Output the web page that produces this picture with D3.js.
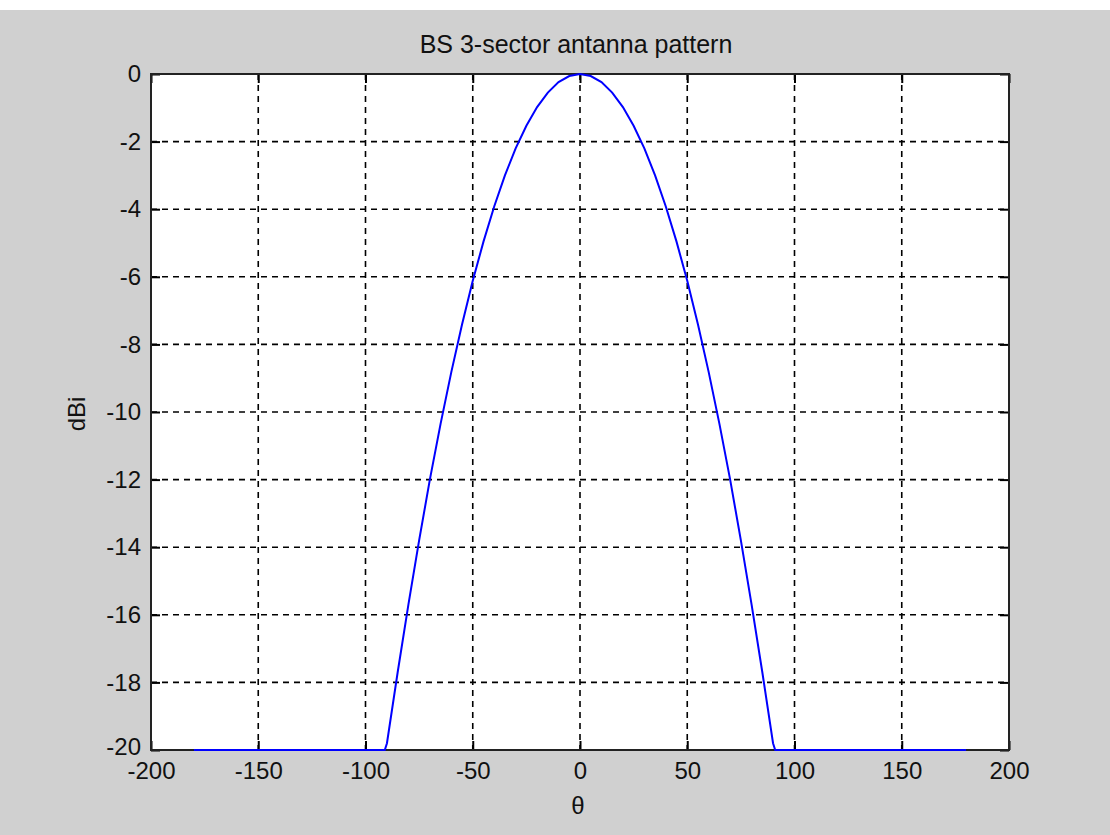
<!DOCTYPE html>
<html>
<head>
<meta charset="utf-8">
<script src="https://cdn.jsdelivr.net/npm/d3@7"></script>
<style>
  body { margin: 0; background: #d0d0d0; }
  svg text { font-family: "Liberation Sans", Arial, sans-serif; fill: #111; }
</style>
</head>
<body>
<div id="chart"></div>
<script>
// angle (degrees) and gain (dBi)
const thetaValues = [-180, -91, -90, -85, -80, -75, -70, -65, -60, -55, -50, -45, -40, -35, -30, -25, -20, -15, -10, -5,
                     0, 5, 10, 15, 20, 25, 30, 35, 40, 45, 50, 55, 60, 65, 70, 75, 80, 85, 90, 91, 180];
const gainValues = [-20, -20, -19.8, -17.7, -15.7, -13.8, -12.0, -10.35, -8.82, -7.41, -6.12, -4.96, -3.92, -3.0, -2.2, -1.53, -0.98, -0.55, -0.24, -0.06,
                    0, -0.06, -0.24, -0.55, -0.98, -1.53, -2.2, -3.0, -3.92, -4.96, -6.12, -7.41, -8.82, -10.35, -12.0, -13.8, -15.7, -17.7, -19.8, -20, -20];
const xTicks = [-200, -150, -100, -50, 0, 50, 100, 150, 200];
const yTicks = [0, -2, -4, -6, -8, -10, -12, -14, -16, -18, -20];

const width = 1110;
const height = 835;
const plot = { left: 151, right: 1009, top: 74, bottom: 750 };

const svg = d3.select('#chart')
  .append('svg')
    .attr('width', width)
    .attr('height', height);

svg.append('rect')
  .attr('width', width).attr('height', height)
  .attr('fill', '#d0d0d0');
svg.append('rect')
  .attr('width', width).attr('height', 10)
  .attr('fill', '#fff');

svg.append('rect')
  .attr('x', plot.left).attr('y', plot.top)
  .attr('width', plot.right - plot.left).attr('height', plot.bottom - plot.top)
  .attr('fill', '#fff');

const x = d3.scaleLinear().domain([-200, 200]).range([plot.left, plot.right]);
const y = d3.scaleLinear().domain([-20, 0]).range([plot.bottom, plot.top]);

// dashed grid
svg.append('g')
  .selectAll('line')
  .data(xTicks.slice(1, -1))
  .join('line')
    .attr('x1', d => x(d)).attr('x2', d => x(d))
    .attr('y1', plot.top).attr('y2', plot.bottom)
    .attr('stroke', '#000').attr('stroke-width', 1.6)
    .attr('stroke-dasharray', '6,5');

svg.append('g')
  .selectAll('line')
  .data(yTicks.slice(1, -1))
  .join('line')
    .attr('x1', plot.left).attr('x2', plot.right)
    .attr('y1', d => y(d)).attr('y2', d => y(d))
    .attr('stroke', '#000').attr('stroke-width', 1.6)
    .attr('stroke-dasharray', '6,5');

// axes, ticks pointing inward
const fontSize = '24px';
const xAxis = svg.append('g')
  .attr('transform', `translate(0,${plot.bottom})`)
  .call(d3.axisBottom(x).tickValues(xTicks).tickSizeInner(-9).tickSizeOuter(0).tickPadding(12));
const yAxis = svg.append('g')
  .attr('transform', `translate(${plot.left},0)`)
  .call(d3.axisLeft(y).tickValues(yTicks).tickSizeInner(-9).tickSizeOuter(0).tickPadding(10));

svg.append('g')
  .attr('transform', `translate(0,${plot.top})`)
  .call(d3.axisTop(x).tickValues(xTicks).tickSizeInner(-9).tickSizeOuter(0).tickFormat(''));
svg.append('g')
  .attr('transform', `translate(${plot.right},0)`)
  .call(d3.axisRight(y).tickValues(yTicks).tickSizeInner(-9).tickSizeOuter(0).tickFormat(''));

svg.selectAll('.domain').remove();
svg.selectAll('.tick line').attr('stroke', '#000').attr('stroke-width', 2);
svg.selectAll('.tick text')
  .style('font-size', fontSize)
  .attr('fill', '#111');
xAxis.selectAll('.tick text').text(d => d);
yAxis.selectAll('.tick text').text(d => d);
// nudge the corner label so it does not run into -200
yAxis.selectAll('.tick text').filter(d => d === -20).attr('dy', '0.2em');

svg.append('rect')
  .attr('x', plot.left).attr('y', plot.top)
  .attr('width', plot.right - plot.left).attr('height', plot.bottom - plot.top)
  .attr('fill', 'none')
  .attr('stroke', '#222')
  .attr('stroke-width', 2);

// the curve, on top of the box so the -20 floor stays visible
const data = thetaValues.map((t, i) => ({ theta: t, gain: gainValues[i] }));
const line = d3.line().x(d => x(d.theta)).y(d => y(d.gain));
svg.append('path')
  .datum(data)
  .attr('d', line)
  .attr('fill', 'none')
  .attr('stroke', '#0000ff')
  .attr('stroke-width', 2);

// labels
svg.append('text')
  .attr('x', 576)
  .attr('y', 53)
  .attr('text-anchor', 'middle')
  .style('font-size', '25px')
  .text('BS 3-sector antanna pattern');

svg.append('text')
  .attr('x', 578)
  .attr('y', 814)
  .attr('text-anchor', 'middle')
  .style('font-size', fontSize)
  .text('θ');

svg.append('text')
  .attr('transform', 'translate(85,414) rotate(-90)')
  .attr('text-anchor', 'middle')
  .style('font-size', fontSize)
  .text('dBi');
</script>
</body>
</html>
